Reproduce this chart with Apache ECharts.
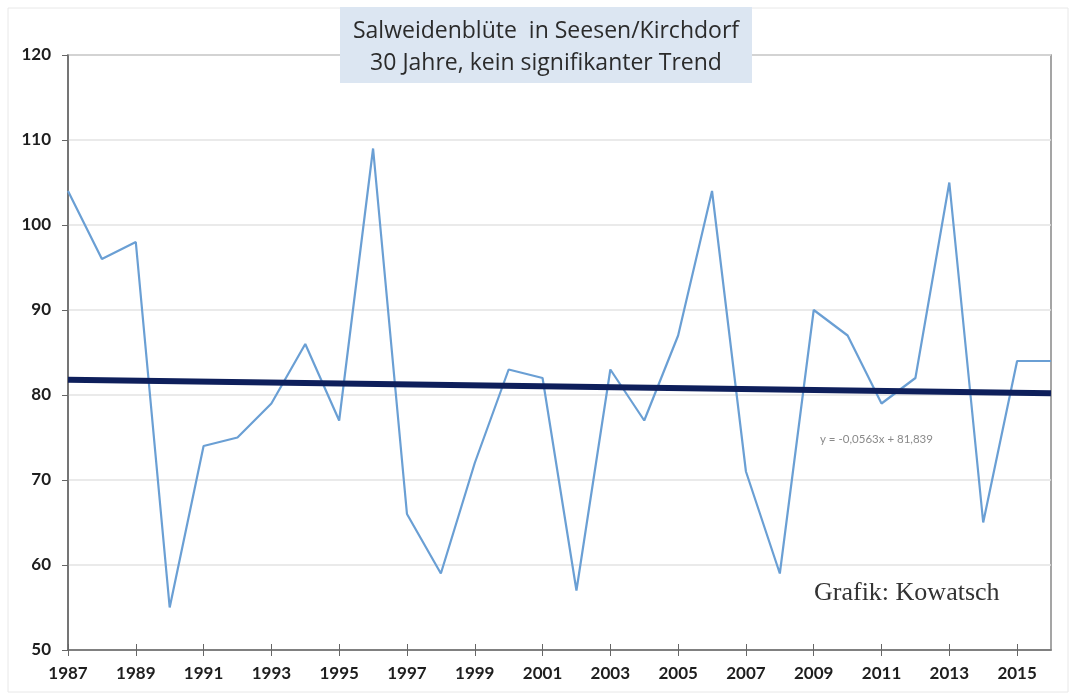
<!DOCTYPE html>
<html>
<head>
<meta charset="utf-8">
<script src="https://cdn.jsdelivr.net/npm/echarts@6/dist/echarts.min.js"></script>
<style>
html,body{margin:0;padding:0;background:#fff;}
#c{width:1073px;height:695px;}
</style>
</head>
<body>
<div id="c"></div>
<script>
const years = ['1987','1988','1989','1990','1991','1992','1993','1994','1995','1996',
  '1997','1998','1999','2000','2001','2002','2003','2004','2005','2006',
  '2007','2008','2009','2010','2011','2012','2013','2014','2015','2016'];
const bloomDay = [104,96,98,55,74,75,79,86,77,109,
  66,59,72,83,82,57,83,77,87,104,
  71,59,90,87,79,82,105,65,84,84];
const trendYears = ['1987','2016'];
const trendValues = [81.8, 80.2];
const yTicks = {min:50, max:120, interval:10};
const titleLines = ['Salweidenblüte  in Seesen/Kirchdorf','30 Jahre, kein signifikanter Trend'];
const equationText = 'y = -0,0563x + 81,839';
const creditText = 'Grafik: Kowatsch';

const chart = echarts.init(document.getElementById('c'));
const labelStyle = {color:'#1e1e1e', fontFamily:'Lato', fontWeight:'bold', fontSize:17};
chart.setOption({
  animation:false,
  backgroundColor:'#fff',
  title:{
    text: titleLines.join('\n'),
    left:541, textAlign:'center', top:10, z:200,
    textStyle:{fontFamily:'Open Sans', fontSize:23, fontWeight:'normal', color:'#2b2b2b', lineHeight:32}
  },
  graphic:[
    {type:'rect', z:-10, shape:{x:8,y:8,width:1060,height:684}, style:{fill:'none', stroke:'#e8e8e8', lineWidth:1}},
    {type:'rect', z:100, shape:{x:340,y:7,width:412,height:76}, style:{fill:'#dce6f2'}},
    {type:'text', z:100, x:820, y:433, style:{text:equationText, fontSize:11.5, fontFamily:'Lato', fill:'#8a8a8a'}},
    {type:'text', z:100, x:814, y:580, style:{text:creditText, fontSize:26, fontFamily:'Liberation Serif', fill:'#333'}}
  ],
  grid:{left:68, right:22, top:55, bottom:45, show:true, borderColor:'#888', borderWidth:1.5, backgroundColor:'transparent'},
  xAxis:[{
    type:'category', data:years, boundaryGap:false,
    axisLine:{lineStyle:{color:'#666', width:1.5}},
    axisTick:{interval:1, length:6, lineStyle:{color:'#666'}},
    axisLabel:{interval:1, margin:15, ...labelStyle},
    splitLine:{show:false}
  },{
    type:'category', data:years, boundaryGap:false, position:'bottom',
    axisLine:{show:false},
    axisTick:{interval:1, inside:true, length:6, lineStyle:{color:'#666'}},
    axisLabel:{show:false},
    splitLine:{show:false}
  }],
  yAxis:{
    type:'value', min:yTicks.min, max:yTicks.max, interval:yTicks.interval,
    axisLine:{show:true, lineStyle:{color:'#666', width:1.5}},
    axisTick:{show:true, length:6, lineStyle:{color:'#666'}},
    axisLabel:{margin:17, ...labelStyle},
    splitLine:{lineStyle:{color:'#e3e3e3', width:1.5}}
  },
  series:[{
    type:'line', data:bloomDay, symbol:'none',
    lineStyle:{color:'#6a9fd4', width:2.2}, z:3
  },{
    type:'line', data:trendYears.map((y,i)=>[y, trendValues[i]]), symbol:'none',
    lineStyle:{color:'#0e1f5b', width:6}, z:4
  }]
});
</script>
</body>
</html>
